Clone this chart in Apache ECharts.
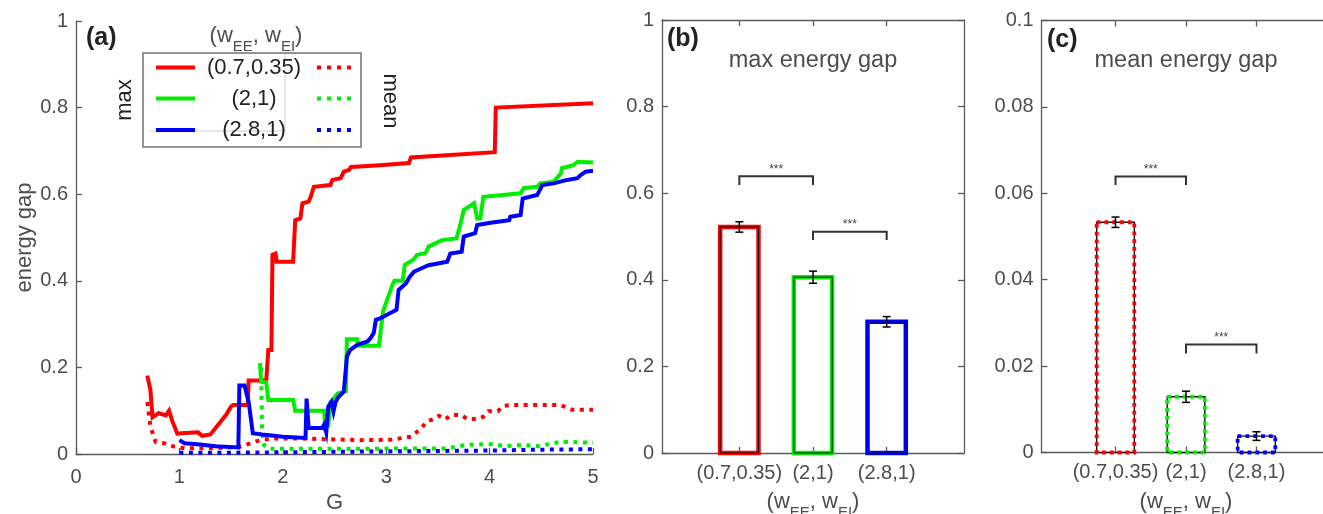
<!DOCTYPE html>
<html><head><meta charset="utf-8">
<script src="https://cdn.jsdelivr.net/npm/echarts@6/dist/echarts.min.js"></script>
<style>html,body{margin:0;padding:0;background:#fff}#c{width:1323px;height:514px}</style>
</head><body><div id="c"></div>
<script>
// ---------------- data ----------------
const groups = ['(0.7,0.35)', '(2,1)', '(2.8,1)'];
const groupPos = [1, 2, 3];
const xTicksA = [0, 1, 2, 3, 4, 5];
const maxGapMean = [0.522, 0.406, 0.303];
const maxGapErr = [0.012, 0.014, 0.012];
const meanGapMean = [0.0533, 0.0129, 0.0038];
const meanGapErr = [0.0012, 0.0013, 0.0010];
// brackets: [from group, to group, bar height, end height]
const maxBrackets = [[1, 2, 0.639, 0.619], [2, 3, 0.511, 0.492]];
const meanBrackets = [[1, 2, 0.0639, 0.0619], [2, 3, 0.0250, 0.0229]];

const redMax = [[0.69,0.181],[0.72,0.147],[0.74,0.085],[0.80,0.094],[0.87,0.089],[0.90,0.100],[0.93,0.077],[0.98,0.047],[1.02,0.048],[1.18,0.050],[1.22,0.042],[1.30,0.045],[1.35,0.060],[1.40,0.075],[1.45,0.090],[1.50,0.110],[1.52,0.113],[1.66,0.113],[1.67,0.170],[1.84,0.170],[1.86,0.240],[1.89,0.240],[1.90,0.460],[1.93,0.463],[1.94,0.444],[2.10,0.444],[2.12,0.540],[2.17,0.544],[2.19,0.579],[2.25,0.583],[2.27,0.594],[2.30,0.617],[2.46,0.621],[2.48,0.633],[2.56,0.637],[2.59,0.652],[2.64,0.656],[2.66,0.663],[2.94,0.667],[3.22,0.672],[3.24,0.685],[4.05,0.697],[4.06,0.800],[5.00,0.810]];
const greenMax = [[1.78,0.210],[1.79,0.167],[1.84,0.165],[1.86,0.125],[2.10,0.125],[2.12,0.100],[2.40,0.100],[2.41,0.060],[2.44,0.065],[2.46,0.120],[2.50,0.130],[2.53,0.140],[2.61,0.145],[2.62,0.265],[2.72,0.265],[2.73,0.250],[2.93,0.250],[2.97,0.330],[3.06,0.390],[3.08,0.400],[3.16,0.400],[3.18,0.437],[3.26,0.448],[3.30,0.460],[3.38,0.464],[3.41,0.479],[3.48,0.487],[3.54,0.494],[3.68,0.498],[3.72,0.533],[3.75,0.564],[3.80,0.571],[3.85,0.579],[3.88,0.544],[3.91,0.544],[3.94,0.594],[4.30,0.602],[4.33,0.614],[4.46,0.617],[4.49,0.625],[4.62,0.629],[4.69,0.648],[4.70,0.660],[4.81,0.667],[4.85,0.675],[5.00,0.673]];
const blueMax = [[1.00,0.032],[1.05,0.025],[1.20,0.022],[1.35,0.018],[1.57,0.015],[1.58,0.158],[1.63,0.158],[1.67,0.120],[1.71,0.048],[1.80,0.045],[2.00,0.040],[2.22,0.037],[2.23,0.128],[2.25,0.060],[2.38,0.060],[2.40,0.068],[2.42,0.050],[2.44,0.110],[2.47,0.120],[2.49,0.098],[2.51,0.120],[2.54,0.132],[2.59,0.144],[2.62,0.225],[2.65,0.240],[2.72,0.252],[2.82,0.260],[2.85,0.268],[2.88,0.280],[2.90,0.310],[2.94,0.313],[3.10,0.333],[3.12,0.379],[3.19,0.394],[3.23,0.410],[3.27,0.421],[3.38,0.433],[3.41,0.436],[3.59,0.444],[3.62,0.463],[3.73,0.467],[3.75,0.502],[3.86,0.510],[3.88,0.529],[4.01,0.534],[4.19,0.540],[4.20,0.548],[4.30,0.552],[4.32,0.590],[4.46,0.598],[4.51,0.621],[4.62,0.625],[4.75,0.633],[4.85,0.637],[4.88,0.644],[4.93,0.652],[5.00,0.654]];
const redMean = [[0.69,0.120],[0.72,0.063],[0.77,0.028],[0.85,0.025],[0.95,0.017],[1.05,0.013],[1.27,0.013],[1.46,0.015],[1.59,0.017],[1.69,0.025],[1.78,0.032],[1.91,0.036],[2.14,0.036],[2.75,0.032],[3.05,0.033],[3.24,0.040],[3.34,0.059],[3.39,0.075],[3.45,0.080],[3.51,0.088],[3.57,0.080],[3.63,0.090],[3.73,0.090],[3.78,0.081],[3.88,0.081],[3.94,0.086],[3.99,0.099],[4.08,0.099],[4.13,0.111],[4.20,0.113],[4.68,0.113],[4.73,0.109],[4.80,0.102],[5.00,0.102]];
const greenMean = [[1.79,0.200],[1.80,0.050],[1.82,0.020],[1.87,0.012],[2.50,0.012],[3.60,0.013],[3.70,0.018],[3.78,0.021],[4.02,0.023],[4.15,0.018],[4.32,0.021],[4.49,0.018],[4.62,0.026],[4.75,0.028],[5.00,0.026]];
const blueMean = [[1.00,0.003],[1.50,0.003],[2.00,0.004],[2.50,0.005],[3.00,0.006],[3.50,0.007],[4.00,0.008],[4.50,0.010],[5.00,0.011]];

// ---------------- style ----------------
const FONT = "'Liberation Sans', Arial, Helvetica, sans-serif";
const TXT = '#4d4d4d';
const AX = '#5a5a5a';
const COLORS = ['#ff0000', '#00ee00', '#0000ff'];

const chart = echarts.init(document.getElementById('c'), null, {renderer: 'canvas'});

function axisCommon(extra) {
  return Object.assign({
    axisLine: {show: true, onZero: false, lineStyle: {color: AX, width: 1.3}},
    axisTick: {show: true, inside: true, length: 6, lineStyle: {color: AX, width: 1.3}},
    axisLabel: {show: true, color: TXT, fontSize: 20, fontFamily: FONT, margin: 8},
    splitLine: {show: false}
  }, extra);
}

function barRender(halfW, dotted) {
  return function (params, api) {
    const x = api.value(0), v = api.value(1), ci = api.value(2);
    const p0 = api.coord([x - halfW, 0]);
    const p1 = api.coord([x + halfW, v]);
    const shape = {x: p0[0], y: p1[1], width: p1[0] - p0[0], height: p0[1] - p1[1]};
    const ch = [];
    if (dotted) {
      ch.push({type: 'rect', shape, style: {fill: null, stroke: '#111', lineWidth: 1.4}});
      ch.push({type: 'rect', shape, style: {fill: null, stroke: COLORS[ci], lineWidth: 3.8, lineDash: [3.8, 4]}});
    } else {
      ch.push({type: 'rect', shape, style: {fill: null, stroke: COLORS[ci], lineWidth: 4.5}});
      ch.push({type: 'rect', shape, style: {fill: null, stroke: '#111', lineWidth: 1}});
    }
    return {type: 'group', children: ch};
  };
}
function errRender(params, api) {
  const x = api.value(0), m = api.value(1), e = api.value(2);
  const t = api.coord([x, m + e]), b = api.coord([x, m - e]);
  const c = 4;
  const st = {stroke: '#000', lineWidth: 1.5};
  return {type: 'group', children: [
    {type: 'line', shape: {x1: t[0], y1: t[1], x2: b[0], y2: b[1]}, style: st},
    {type: 'line', shape: {x1: t[0] - c, y1: t[1], x2: t[0] + c, y2: t[1]}, style: st},
    {type: 'line', shape: {x1: b[0] - c, y1: b[1], x2: b[0] + c, y2: b[1]}, style: st}
  ]};
}
function brRender(params, api) {
  const x1 = api.value(0), x2 = api.value(1), yt = api.value(2), ye = api.value(3);
  const a = api.coord([x1, ye]), b = api.coord([x1, yt]), c = api.coord([x2, yt]), d = api.coord([x2, ye]);
  return {type: 'group', children: [
    {type: 'polyline', shape: {points: [a, b, c, d]}, style: {stroke: '#333', lineWidth: 2, fill: null}},
    {type: 'text', x: (b[0] + c[0]) / 2, y: b[1] - 7, style: {text: '***', fontSize: 12, fontFamily: FONT, fill: '#444', align: 'center', verticalAlign: 'middle'}}
  ]};
}

function wLabel(cx, cy) {
  return {type: 'text', x: cx, y: cy, z: 100, style: {
    text: '{n|(w}{s|EE}{n|, w}{s|EI}{n|)}', align: 'center', verticalAlign: 'middle',
    rich: {
      n: {fontSize: 22, fontFamily: FONT, fill: TXT, lineHeight: 36, verticalAlign: 'middle'},
      s: {fontSize: 15, fontFamily: FONT, fill: TXT, lineHeight: 36, verticalAlign: 'bottom'}
    }
  }};
}

const lineSeries = [
  {d: redMax, c: 0, dot: false}, {d: greenMax, c: 1, dot: false}, {d: blueMax, c: 2, dot: false},
  {d: redMean, c: 0, dot: true}, {d: greenMean, c: 1, dot: true}, {d: blueMean, c: 2, dot: true}
].map(s => ({
  type: 'line', xAxisIndex: 0, yAxisIndex: 0, data: s.d, showSymbol: false, symbol: 'none',
  clip: false, animation: false,
  lineStyle: {color: COLORS[s.c], width: 4, type: s.dot ? [4, 5.5] : 'solid', cap: 'butt', join: 'miter'},
  z: s.dot ? 3 : 4
}));

const legendRows = [67.5, 98.5, 130];
const legendGraphics = [
  {type: 'rect', shape: {x: 143, y: 53, width: 218, height: 94}, style: {fill: '#fff', stroke: '#707070', lineWidth: 1.5}, z: 50},
  {type: 'polyline', shape: {points: [[285, 54], [285, 131], [150, 131]]}, style: {fill: null, stroke: '#cfcfcf', lineWidth: 1}, z: 51}
];
groups.forEach((g, i) => {
  const y = legendRows[i];
  legendGraphics.push({type: 'line', shape: {x1: 156, y1: y, x2: 195, y2: y}, style: {stroke: COLORS[i], lineWidth: 4}, z: 52});
  legendGraphics.push({type: 'line', shape: {x1: 317, y1: y, x2: 357, y2: y}, style: {stroke: COLORS[i], lineWidth: 4, lineDash: [4, 6]}, z: 52});
  legendGraphics.push({type: 'text', x: 254, y: y, style: {text: g, fontSize: 22, fontFamily: FONT, fill: '#222', align: 'center', verticalAlign: 'middle'}, z: 52});
});

const option = {
  animation: false,
  backgroundColor: '#fff',
  textStyle: {fontFamily: FONT},
  grid: [
    {left: 76, top: 21, width: 517, height: 433, containLabel: false, outerBoundsMode: 'none'},
    {left: 662, top: 20, width: 302, height: 433, containLabel: false, outerBoundsMode: 'none'},
    {left: 1041.5, top: 20.5, width: 289, height: 432, containLabel: false, outerBoundsMode: 'none'}
  ],
  xAxis: [
    axisCommon({gridIndex: 0, type: 'value', min: 0, max: 5, interval: 1, position: 'bottom',
      axisLabel: {color: TXT, fontSize: 20, fontFamily: FONT, margin: 13, formatter: v => String(xTicksA[Math.round(v)])},
      name: 'G', nameLocation: 'middle', nameGap: 31, nameTextStyle: {color: TXT, fontSize: 22, fontFamily: FONT}}),
    axisCommon({gridIndex: 1, type: 'value', min: -0.05, max: 4.05, position: 'bottom',
      axisTick: {show: true, inside: true, length: 6, customValues: groupPos, lineStyle: {color: AX, width: 1.3}},
      axisLabel: {color: TXT, fontSize: 20, fontFamily: FONT, margin: 10, customValues: groupPos, formatter: v => groups[Math.round(v) - 1]}}),
    axisCommon({gridIndex: 1, type: 'value', min: -0.05, max: 4.05, position: 'top',
      axisTick: {show: true, inside: true, length: 6, customValues: groupPos, lineStyle: {color: AX, width: 1.3}},
      axisLabel: {show: false}}),
    axisCommon({gridIndex: 2, type: 'value', min: -0.05, max: 4.05, position: 'bottom',
      axisTick: {show: true, inside: true, length: 6, customValues: groupPos, lineStyle: {color: AX, width: 1.3}},
      axisLabel: {color: TXT, fontSize: 20, fontFamily: FONT, margin: 10, customValues: groupPos, formatter: v => groups[Math.round(v) - 1]}}),
    axisCommon({gridIndex: 2, type: 'value', min: -0.05, max: 4.05, position: 'top',
      axisTick: {show: true, inside: true, length: 6, customValues: groupPos, lineStyle: {color: AX, width: 1.3}},
      axisLabel: {show: false}})
  ],
  yAxis: [
    axisCommon({gridIndex: 0, type: 'value', min: 0, max: 1, interval: 0.2, position: 'left',
      name: 'energy gap', nameLocation: 'middle', nameGap: 40, nameTextStyle: {color: TXT, fontSize: 22, fontFamily: FONT}}),
    axisCommon({gridIndex: 1, type: 'value', min: 0, max: 1, interval: 0.2, position: 'left'}),
    axisCommon({gridIndex: 1, type: 'value', min: 0, max: 1, interval: 0.2, position: 'right', axisLabel: {show: false}}),
    axisCommon({gridIndex: 2, type: 'value', min: 0, max: 0.1, interval: 0.02, position: 'left'}),
    axisCommon({gridIndex: 2, type: 'value', min: 0, max: 0.1, interval: 0.02, position: 'right', axisLabel: {show: false}})
  ],
  series: lineSeries.concat([
    {type: 'custom', xAxisIndex: 1, yAxisIndex: 1, renderItem: barRender(0.26, false), z: 5,
      data: groupPos.map((x, i) => [x, maxGapMean[i], i])},
    {type: 'custom', xAxisIndex: 1, yAxisIndex: 1, renderItem: errRender, z: 6,
      data: groupPos.map((x, i) => [x, maxGapMean[i], maxGapErr[i]])},
    {type: 'custom', xAxisIndex: 1, yAxisIndex: 1, renderItem: brRender, z: 6, data: maxBrackets},
    {type: 'custom', xAxisIndex: 3, yAxisIndex: 3, renderItem: barRender(0.267, true), z: 5,
      data: groupPos.map((x, i) => [x, meanGapMean[i], i])},
    {type: 'custom', xAxisIndex: 3, yAxisIndex: 3, renderItem: errRender, z: 6,
      data: groupPos.map((x, i) => [x, meanGapMean[i], meanGapErr[i]])},
    {type: 'custom', xAxisIndex: 3, yAxisIndex: 3, renderItem: brRender, z: 6, data: meanBrackets}
  ]),
  graphic: legendGraphics.concat([
    wLabel(256, 36),
    wLabel(813, 502),
    wLabel(1186, 502),
    {type: 'text', x: 125, y: 100, rotation: Math.PI / 2, style: {text: 'max', fontSize: 22, fontFamily: FONT, fill: '#222', align: 'center', verticalAlign: 'middle'}, z: 60},
    {type: 'text', x: 390, y: 101, rotation: -Math.PI / 2, style: {text: 'mean', fontSize: 22, fontFamily: FONT, fill: '#222', align: 'center', verticalAlign: 'middle'}, z: 60},
    {type: 'text', x: 86, y: 38, style: {text: '(a)', fontSize: 25, fontWeight: 'bold', fontFamily: FONT, fill: '#222', align: 'left', verticalAlign: 'middle'}, z: 60},
    {type: 'text', x: 667, y: 39, style: {text: '(b)', fontSize: 25, fontWeight: 'bold', fontFamily: FONT, fill: '#222', align: 'left', verticalAlign: 'middle'}, z: 60},
    {type: 'text', x: 1047, y: 40, style: {text: '(c)', fontSize: 25, fontWeight: 'bold', fontFamily: FONT, fill: '#222', align: 'left', verticalAlign: 'middle'}, z: 60},
    {type: 'text', x: 813, y: 61, style: {text: 'max energy gap', fontSize: 23.5, fontFamily: FONT, fill: TXT, align: 'center', verticalAlign: 'middle'}, z: 60},
    {type: 'text', x: 1186, y: 61, style: {text: 'mean energy gap', fontSize: 23.5, fontFamily: FONT, fill: TXT, align: 'center', verticalAlign: 'middle'}, z: 60}
  ])
};
chart.setOption(option);
</script>
</body></html>
